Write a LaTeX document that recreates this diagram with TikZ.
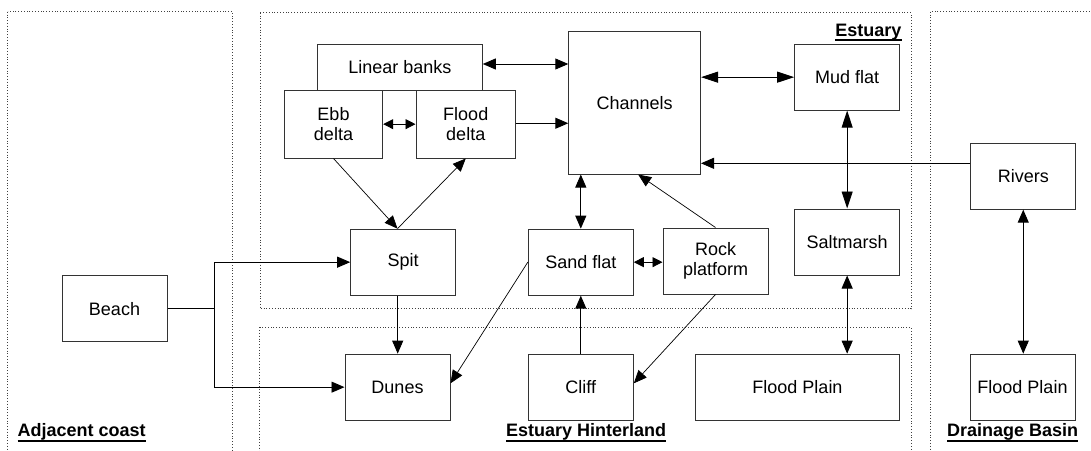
\documentclass[tikz,border=0pt]{standalone}
\usepackage{fontspec}
\setmainfont{Liberation Sans}
\usetikzlibrary{arrows.meta}
\newcommand\myul[1]{\setbox0\hbox{#1}\leavevmode\rlap{\raisebox{-5pt}{\rule{\wd0}{1.6pt}}}\box0}
\begin{document}
\begin{tikzpicture}[x=1pt,y=-1pt,
  box/.style={draw=black!80, line width=1pt, fill=white, inner sep=0pt, align=center,
    font=\fontsize{18}{20.5}\selectfont, minimum width=105pt, minimum height=66pt},
  frame/.style={draw=black!75, dotted, line width=0.8pt},
  lbl/.style={inner sep=0pt, font=\fontsize{18}{21}\selectfont\bfseries},
  conn/.style={draw=black, line width=0.9pt},
  arr/.style={conn, -{Triangle[length=13pt,width=11pt]}},
  bi/.style={conn, {Triangle[length=13pt,width=11pt]}-{Triangle[length=13pt,width=11pt]}},
  bilong/.style={conn, {Triangle[length=17pt,width=11pt]}-{Triangle[length=17pt,width=11pt]}},
  bismall/.style={conn, {Triangle[length=10pt,width=10pt]}-{Triangle[length=10pt,width=10pt]}},
  arrthin/.style={draw=black, line width=0.7pt, -{Triangle[length=13pt,width=11pt]}}
]
\useasboundingbox (0,0) rectangle (1091,450);
\clip (0,0) rectangle (1091,450);

% region frames
\draw[frame] (7.7,11.7) rectangle (232.6,470);
\draw[frame] (260,12.7) rectangle (911,308.7);
\draw[frame] (259.6,327.3) rectangle (911,470);
\draw[frame] (930,11.7) rectangle (1110,470);

% region labels
\node[lbl, anchor=base west] (lac) at (17.5,436.5) {\myul{Adjacent coast}};
\node[lbl, anchor=base east] (les) at (901.7,36) {\myul{Estuary}};
\node[lbl, anchor=base east] (leh) at (666.3,436.5) {\myul{Estuary Hinterland}};
\node[lbl, anchor=base west] (ldb) at (947,436.5) {\myul{Drainage Basin}};

% nodes
\node[box, minimum width=164.8pt, minimum height=45.6pt] (linear) at (399.9,67.5) {Linear banks};
\node[box, minimum width=98.4pt, minimum height=67.7pt] (ebb) at (333.5,124.15) {Ebb\\delta};
\node[box, minimum width=99.5pt, minimum height=67.7pt] (flood) at (465.75,124.15) {Flood\\delta};
\node[box, minimum width=131.7pt, minimum height=142.3pt] (channels) at (634.65,102.85) {Channels};
\node[box] (mud) at (847.15,77.15) {Mud flat};
\node[box] (salt) at (847.15,242) {Saltmarsh};
\node[box] (rivers) at (1023.25,176.15) {Rivers};
\node[box] (dfp) at (1022.5,387.15) {Flood Plain};
\node[box] (spit) at (403.2,262.15) {Spit};
\node[box] (sand) at (580.8,262.15) {Sand flat};
\node[box] (rock) at (715.5,261) {Rock\\platform};
\node[box] (beach) at (114.5,308.7) {Beach};
\node[box] (dunes) at (397.5,387.15) {Dunes};
\node[box] (cliff) at (580.8,387.15) {Cliff};
\node[box, minimum width=204.2pt] (hfp) at (797.5,387.15) {Flood Plain};

% connectors
\coordinate (l1) at ([yshift=3.5pt]linear.east);
\draw[bi] (l1) -- (l1 -| channels.west);
\coordinate (f1) at ([yshift=0.9pt]flood.east);
\draw[arr] (f1) -- (f1 -| channels.west);
\draw[bismall] (ebb.east) -- (flood.west);
\draw[bilong] (mud.west -| channels.east) -- (mud.west);
\coordinate (r1) at ([yshift=12.85pt]rivers.west);
\draw[arr] (r1) -- (r1 -| channels.east);
\draw[bilong] (mud.south) -- (salt.north);
\draw[bi] (salt.south) -- (salt.south |- hfp.north);
\draw[bi] (rivers.south) -- (rivers.south |- dfp.north);
\draw[bi] (sand.north |- channels.south) -- (sand.north);
\draw[arrthin] (rock.north) -- ([xshift=3.5pt]channels.south);
\draw[bismall] (sand.east) -- (sand.east -| rock.west);
\draw[arr] (cliff.north) -- (sand.south);
\draw[arrthin] (rock.south) -- ([yshift=3.85pt]cliff.east);
\draw[arrthin] (sand.west) -- ([yshift=3.85pt]dunes.east);
\coordinate (s1) at ([xshift=-5.7pt]spit.north);
\draw[arrthin] (ebb.south) -- (s1);
\draw[arrthin] (s1) -- (flood.south);
\coordinate (s2) at ([xshift=-5.5pt]spit.south);
\draw[arr] (s2) -- (s2 |- dunes.north);
\coordinate (j) at ([xshift=47.4pt]beach.east);
\draw[conn] (beach.east) -- (j);
\draw[arr] (j) |- (spit.west);
\draw[arr] (j) |- (dunes.west);
\end{tikzpicture}
\end{document}
